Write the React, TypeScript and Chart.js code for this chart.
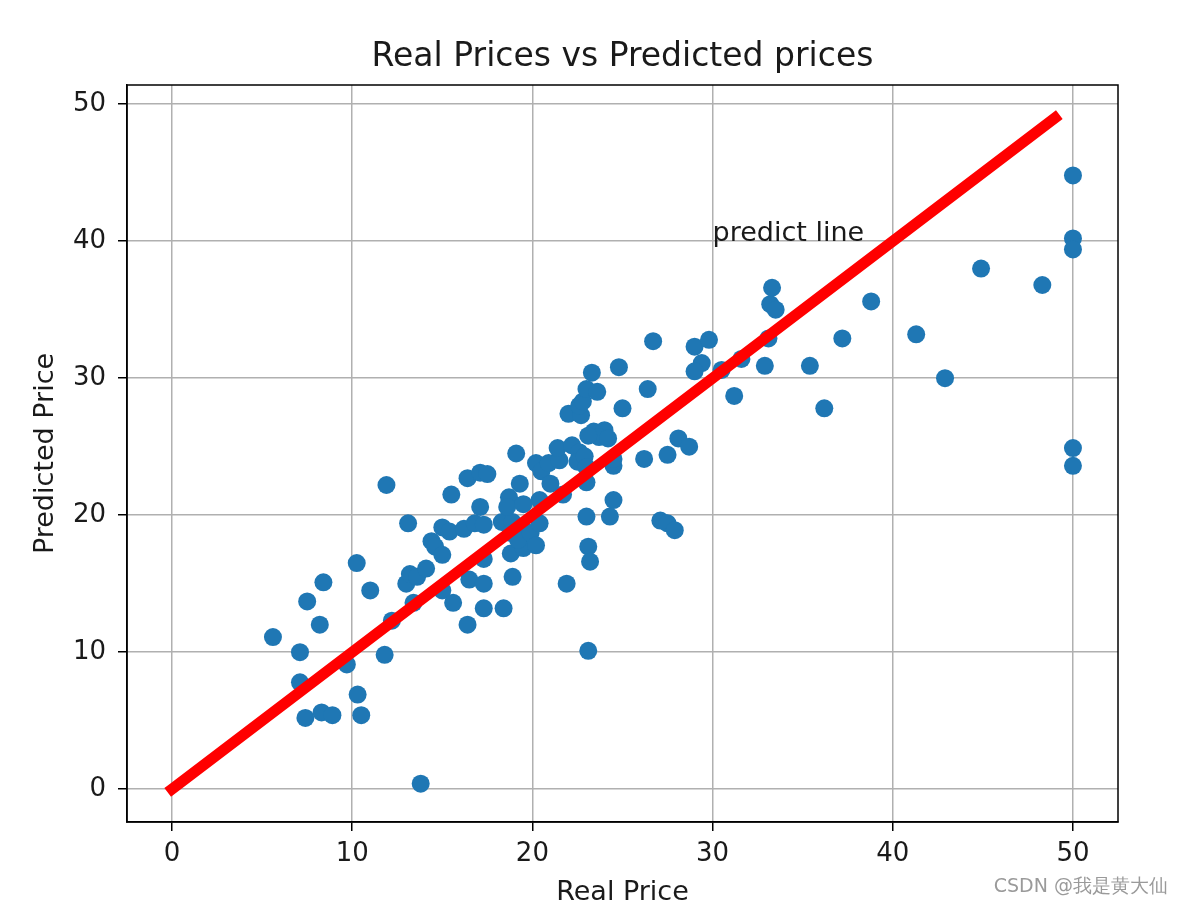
import React, { useEffect, useRef } from "react";
import { Chart, registerables } from "chart.js";

Chart.register(...registerables);

// ---- data ----
const realPrices: number[] = [
  5.6, 7.1, 7.1, 7.4, 7.5, 8.4, 8.2, 8.3, 8.9, 9.7,
  10.25, 10.3, 10.5, 11.0, 11.8, 11.9, 12.2, 13.1, 13.0, 13.2,
  13.6, 13.4, 13.8, 14.1, 14.4, 14.6, 15.0, 15.0, 15.4, 15.5,
  15.0, 15.6, 16.2, 16.4, 16.4, 16.5, 16.8, 17.1, 17.5, 17.1,
  17.3, 17.3, 17.3, 17.3, 18.4, 18.3, 18.9, 18.7, 18.6, 18.8,
  18.8, 18.9, 19.1, 19.3, 19.5, 19.5, 19.5, 19.2, 19.9, 20.2,
  20.4, 20.4, 20.2, 20.5, 20.9, 21.0, 21.5, 21.4, 21.7, 21.9,
  22.0, 22.2, 22.6, 22.5, 22.9, 22.7, 22.6, 22.8, 23.0, 23.6,
  23.3, 24.8, 23.0, 23.0, 23.0, 23.1, 23.2, 23.1, 23.4, 24.0,
  23.7, 23.1, 24.2, 24.5, 24.5, 24.5, 24.3, 25.0, 26.2, 26.4,
  26.7, 27.1, 27.5, 27.9, 27.5, 28.1, 28.7, 29.0, 29.8, 29.4,
  29.0, 30.5, 31.2, 31.6, 32.9, 33.1, 33.2, 33.3, 33.5, 35.4,
  36.2, 37.2, 38.8, 41.3, 42.9, 44.9, 48.3, 50.0, 50.0, 50.0,
  50.0, 50.0,
];
const predictedPrices: number[] = [
  11.1, 10.0, 7.8, 5.2, 13.7, 15.1, 12.0, 5.6, 5.4, 9.1,
  16.5, 6.9, 5.4, 14.5, 9.8, 22.2, 12.3, 19.4, 15.0, 15.7,
  15.5, 13.6, 0.4, 16.1, 18.1, 17.7, 17.1, 19.1, 18.8, 21.5,
  14.5, 13.6, 19.0, 22.7, 12.0, 15.3, 19.4, 23.1, 23.0, 20.6,
  19.3, 16.8, 15.0, 13.2, 13.2, 19.5, 19.5, 21.3, 20.6, 18.7,
  17.2, 15.5, 24.5, 22.3, 20.8, 18.9, 17.6, 18.2, 18.7, 17.8,
  19.4, 21.1, 23.8, 23.2, 23.8, 22.3, 24.0, 24.9, 21.5, 15.0,
  27.4, 25.1, 24.6, 23.9, 24.3, 27.3, 28.0, 28.3, 29.2, 29.0,
  30.4, 30.8, 23.5, 22.4, 19.9, 17.7, 16.6, 10.1, 26.1, 26.2,
  25.7, 25.8, 25.6, 23.6, 24.1, 21.1, 19.9, 27.8, 24.1, 29.2,
  32.7, 19.6, 19.4, 18.9, 24.4, 25.6, 25.0, 32.3, 32.8, 31.1,
  30.5, 30.6, 28.7, 31.4, 30.9, 32.9, 35.4, 36.6, 35.0, 30.9,
  27.8, 32.9, 35.6, 33.2, 30.0, 38.0, 36.8, 44.8, 40.2, 39.4,
  24.9, 23.6,
];
const lineX: number[] = [0, 49];
const lineY: number[] = [0, 49];
const tickValues: number[] = [0, 10, 20, 30, 40, 50];
const xRange: number[] = [-2.5, 52.5];
const yRange: number[] = [-2.4, 51.4];

const titleText = "Real Prices vs Predicted prices";
const xLabel = "Real Price";
const yLabel = "Predicted Price";
const annotationText = "predict line";
const annotationX = 30;
const annotationY = 40;
const watermarkText = "CSDN @我是黄大仙";

const FONT = "'DejaVu Sans', sans-serif";
const TEXT_COLOR = "#1a1a1a";

export default function App() {
  const canvasRef = useRef<HTMLCanvasElement | null>(null);

  useEffect(() => {
    const canvas = canvasRef.current;
    if (!canvas) return;

    const points = realPrices.map((x, i) => ({ x, y: predictedPrices[i] }));
    const linePts = lineX.map((x, i) => ({ x, y: lineY[i] }));

    const decorPlugin = {
      id: "decor",
      afterDraw(chart: any) {
        const { ctx, chartArea } = chart;
        const xs = chart.scales.x;
        const ys = chart.scales.y;
        ctx.save();
        // frame
        ctx.strokeStyle = "#000";
        ctx.lineWidth = 1.5;
        ctx.strokeRect(
          chartArea.left,
          chartArea.top,
          chartArea.right - chartArea.left,
          chartArea.bottom - chartArea.top
        );
        ctx.fillStyle = TEXT_COLOR;
        // title
        ctx.font = `33px ${FONT}`;
        ctx.textAlign = "center";
        ctx.textBaseline = "alphabetic";
        ctx.fillText(titleText, (chartArea.left + chartArea.right) / 2, 66);
        // x label
        ctx.font = `27px ${FONT}`;
        ctx.fillText(xLabel, (chartArea.left + chartArea.right) / 2, 900);
        // y label
        ctx.save();
        ctx.translate(53, (chartArea.top + chartArea.bottom) / 2);
        ctx.rotate(-Math.PI / 2);
        ctx.fillText(yLabel, 0, 0);
        ctx.restore();
        // annotation
        ctx.textAlign = "left";
        ctx.fillText(
          annotationText,
          xs.getPixelForValue(annotationX),
          ys.getPixelForValue(annotationY)
        );
        // watermark
        ctx.font = `19px ${FONT}`;
        ctx.fillStyle = "#9a9a9a";
        ctx.textAlign = "right";
        ctx.fillText(watermarkText, 1168, 892);
        ctx.restore();
      },
    };

    const axisCommon = (padding: number) => ({
      type: "linear" as const,
      grid: {
        color: "#b0b0b0",
        lineWidth: 1.5,
        tickColor: "#000",
        tickLength: 9,
        tickWidth: 1.5,
      },
      border: { display: true, color: "#000", width: 1.5 },
      ticks: {
        font: { family: FONT, size: 26 },
        color: TEXT_COLOR,
        padding,
        maxRotation: 0,
        autoSkip: false,
      },
      afterBuildTicks: (scale: any) => {
        scale.ticks = tickValues.map((v) => ({ value: v }));
      },
    });

    const chart = new Chart(canvas, {
      type: "scatter",
      data: {
        datasets: [
          {
            type: "line",
            data: linePts,
            borderColor: "#ff0000",
            borderWidth: 11,
            borderCapStyle: "square",
            pointRadius: 0,
            fill: false,
            order: 0,
          } as any,
          {
            type: "scatter",
            data: points,
            backgroundColor: "#1f77b4",
            borderWidth: 0,
            pointRadius: 9,
            pointHoverRadius: 9,
            order: 1,
          } as any,
        ],
      },
      options: {
        responsive: false,
        animation: false,
        layout: { padding: { top: 85, right: 64, left: 0, bottom: 0 } },
        plugins: {
          legend: { display: false },
          tooltip: { enabled: false },
          title: { display: false },
        },
        scales: {
          x: {
            ...axisCommon(8),
            min: xRange[0],
            max: xRange[1],
            afterFit: (scale: any) => {
              scale.height = 84;
            },
          } as any,
          y: {
            ...axisCommon(12),
            min: yRange[0],
            max: yRange[1],
            afterFit: (scale: any) => {
              scale.width = 127;
            },
          } as any,
        },
      },
      plugins: [decorPlugin],
    });

    return () => {
      chart.destroy();
    };
  }, []);

  return (
    <div style={{ position: "absolute", left: 0, top: 0, width: 1182, height: 906, background: "#fff" }}>
      <canvas ref={canvasRef} width={1182} height={906} style={{ display: "block" }} />
    </div>
  );
}
